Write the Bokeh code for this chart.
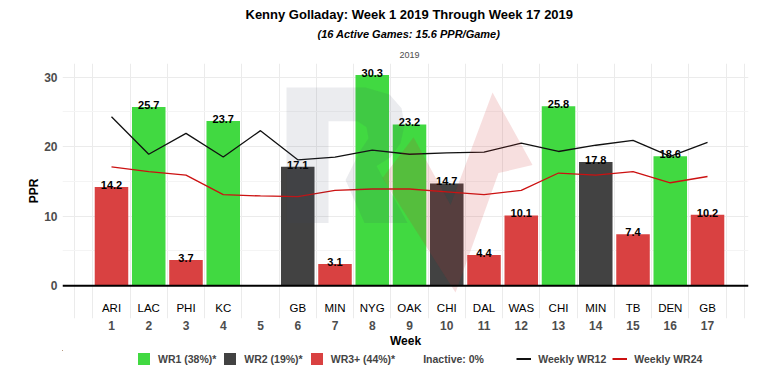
from bokeh.plotting import figure
from bokeh.layouts import column
from bokeh.models import (ColumnDataSource, Range1d, FixedTicker, Span, Title,
                          Legend, LegendItem)
from bokeh.core.properties import value
from bokeh.embed import file_html
from bokeh.resources import INLINE

# ---------------- data ----------------
weeks = [1, 2, 3, 4, 6, 7, 8, 9, 10, 11, 12, 13, 14, 15, 16, 17]
opponents = ["ARI", "LAC", "PHI", "KC", "GB", "MIN", "NYG", "OAK", "CHI", "DAL",
             "WAS", "CHI", "MIN", "TB", "DEN", "GB"]
ppr = [14.2, 25.7, 3.7, 23.7, 17.1, 3.1, 30.3, 23.2, 14.7, 4.4, 10.1, 25.8,
       17.8, 7.4, 18.6, 10.2]
roles = ["WR3+", "WR1", "WR3+", "WR1", "WR2", "WR3+", "WR1", "WR1", "WR2",
         "WR3+", "WR3+", "WR1", "WR2", "WR3+", "WR1", "WR3+"]
all_weeks = list(range(1, 18))
wr12 = [24.3, 18.9, 21.9, 18.5, 22.3, 18.1, 18.5, 19.5, 18.9, 19.1, 19.2, 20.5,
        19.3, 20.2, 20.9, 18.6, 20.6]
wr24 = [17.1, 16.4, 15.9, 13.1, 12.9, 12.8, 13.7, 13.9, 13.9, 13.5, 13.1, 13.7,
        16.2, 15.9, 16.4, 14.8, 15.7]
role_names = ["WR1", "WR2", "WR3+"]
role_labels = ["WR1 (38%)*", "WR2 (19%)*", "WR3+ (44%)*"]
inactive_label = "Inactive: 0%"
line_labels = ["Weekly WR12", "Weekly WR24"]
y_ticks = [0, 10, 20, 30]
y_minor = [5, 15, 25]
title_text = "Kenny Golladay: Week 1 2019 Through Week 17 2019"
subtitle_text = "(16 Active Games: 15.6 PPR/Game)"
strip_text = "2019"

# ---------------- style ----------------
FONT = "Liberation Sans"
role_colors = {"WR1": "#41d941", "WR2": "#424242", "WR3+": "#d94141"}
line_colors = ["#111111", "#cc1111"]
X0, X1 = -0.315, 18.1
Y0, Y1 = -4.73, 31.96


def draw_series(fig, lw):
    """Bars (one renderer per role) and the two weekly lines."""
    bars = []
    for rn in role_names:
        idx = [i for i, r in enumerate(roles) if r == rn]
        src = ColumnDataSource(dict(x=[weeks[i] for i in idx],
                                    top=[ppr[i] for i in idx]))
        bars.append(fig.vbar(x="x", top="top", width=0.9, bottom=0, source=src,
                             fill_color=role_colors[rn], line_color=None))
    lines = [fig.line(all_weeks, wr12, line_color=line_colors[0], line_width=lw),
             fig.line(all_weeks, wr24, line_color=line_colors[1], line_width=lw)]
    return bars, lines


p = figure(width=750, height=350, x_range=Range1d(X0, X1), y_range=Range1d(Y0, Y1),
           output_backend="svg", toolbar_location=None,
           min_border_left=62, min_border_right=2, min_border_top=63,
           min_border_bottom=31)
p.outline_line_color = None
p.background_fill_color = "white"
p.border_fill_color = "white"

# grids
p.xgrid.ticker = FixedTicker(ticks=[0] + [w - 0.5 for w in all_weeks + [18]] + [18])
p.xgrid.grid_line_color = "#ebebeb"
p.xgrid.grid_line_width = 1
p.ygrid.ticker = FixedTicker(ticks=y_ticks, minor_ticks=y_minor)
p.ygrid.grid_line_color = "#ebebeb"
p.ygrid.minor_grid_line_color = "#f4f4f4"

# axes
p.yaxis.ticker = FixedTicker(ticks=y_ticks)
p.xaxis.ticker = FixedTicker(ticks=all_weeks)
for ax in (p.xaxis[0], p.yaxis[0]):
    ax.axis_line_color = None
    ax.major_tick_line_color = None
    ax.minor_tick_line_color = None
    ax.major_tick_out = 0
    ax.major_tick_in = 0
    ax.minor_tick_out = 0
    ax.major_label_text_font = FONT
    ax.major_label_text_font_size = "12px"
    ax.major_label_text_font_style = "bold"
    ax.major_label_text_color = "#4d4d4d"
    ax.axis_label_text_font = FONT
    ax.axis_label_text_font_size = "12px"
    ax.axis_label_text_font_style = "bold"
    ax.axis_label_text_color = "black"
p.yaxis.axis_label = "PPR"
p.xaxis.axis_label = "Week"
p.yaxis.major_label_standoff = 5
p.yaxis.axis_label_standoff = 0
p.xaxis.major_label_standoff = 2
p.xaxis.axis_label_standoff = 1

draw_series(p, 1.3)

src_all = ColumnDataSource(dict(x=weeks, top=ppr, lab=[f"{v:.1f}" for v in ppr],
                                opp=opponents, opp_y=[-3.15] * len(weeks)))
p.text(x="x", y="top", text="lab", source=src_all, text_align="center",
       text_baseline="alphabetic", y_offset=-2, text_font=value(FONT),
       text_font_size="11px", text_font_style="bold", text_color="black")
p.text(x="x", y="opp_y", text="opp", source=src_all, text_align="center",
       text_baseline="middle", text_font=value(FONT), text_font_size="11.5px",
       text_color="black")

p.add_layout(Span(location=0, dimension="width", line_color="black", line_width=2))

# watermark (logo) - reference-pixel outline converted into data space
FL, FT, PXU, PYU = 62, 63, 37.25, 6.977
def to_data(pts):
    xs = [X0 + (a - FL) / PXU for a, b in pts]
    ys = [Y1 - (b - FT) / PYU for a, b in pts]
    return xs, ys
r_shape = [(286, 87), (365, 87), (389, 94), (401, 108), (404, 125), (400, 143),
           (390, 157), (376, 166), (407, 223), (364, 223), (345, 180), (360, 150),
           (368, 138), (366, 127), (357, 121), (328, 121), (328, 223), (286, 223)]
z_shape = [(382, 178), (413, 137), (450, 205), (492, 92), (532, 165), (498, 173),
           (455, 293)]
rx, ry = to_data(r_shape)
zx, zy = to_data(z_shape)
p.patch(rx, ry, fill_color="#3c4664", fill_alpha=0.1, line_color=None)
p.patch(zx, zy, fill_color="#c82828", fill_alpha=0.15, line_color=None)

# titles (first added sits closest to the plot)
p.add_layout(Title(text=strip_text, align="left", offset=337, text_font=FONT,
                   text_font_size="9px", text_font_style="normal",
                   text_color="#4d4d4d", standoff=12), "above")
p.add_layout(Title(text=subtitle_text, align="left", offset=255, text_font=FONT,
                   text_font_size="11px", text_font_style="bold italic",
                   text_color="black", standoff=8), "above")
p.add_layout(Title(text=title_text, align="left", offset=183, text_font=FONT,
                   text_font_size="13px", text_font_style="bold",
                   text_color="black", standoff=0), "above")

# legend strip: a small figure below the chart whose view ranges lie far
# outside the data, so its renderers only supply the legend keys
lg = figure(width=750, height=16, x_range=Range1d(1000, 1001),
            y_range=Range1d(-1001, -1000),
            output_backend="svg", toolbar_location=None,
            x_axis_location=None, y_axis_location=None,
            min_border_left=0, min_border_right=0, min_border_top=0,
            min_border_bottom=0)
lg.grid.visible = False
lg.outline_line_color = None
lg.border_fill_color = "white"
lg.background_fill_color = "white"
leg_bars, leg_lines = draw_series(lg, 2)
leg_blank = lg.scatter(x=weeks, y=ppr, fill_alpha=0, line_alpha=0)

items = [LegendItem(label=role_labels[i], renderers=[leg_bars[i]])
         for i in range(len(role_names))]
items.append(LegendItem(label=inactive_label + "\u00a0" * 9, renderers=[leg_blank]))
items += [LegendItem(label=line_labels[i], renderers=[leg_lines[i]]) for i in range(2)]
legend = Legend(items=items, orientation="horizontal", location=(74, 0),
                glyph_width=15, glyph_height=15, label_standoff=7, spacing=6,
                padding=0, margin=0, border_line_color=None,
                background_fill_alpha=0, label_text_font=FONT,
                label_text_font_size="10.5px", label_text_font_style="bold",
                label_height=15)
lg.add_layout(legend, "center")

open("out.html", "w").write(file_html(column(p, lg), INLINE))
